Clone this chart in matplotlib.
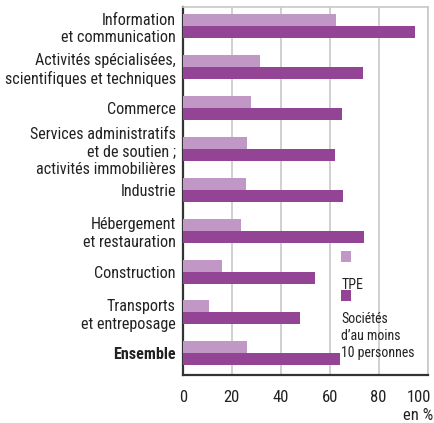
import matplotlib
matplotlib.use('Agg')
import matplotlib.pyplot as plt
import matplotlib.patches as mpatches
from matplotlib import font_manager
from matplotlib.transforms import ScaledTranslation
import numpy as np

# Police condensée si disponible
choix = None
for f in font_manager.fontManager.ttflist:
    nom = f.name.lower()
    st = str(f.stretch).lower()
    if 'narrow' in nom or 'condensed' in nom or 'condensed' in st or 'narrow' in st:
        if 'bold' in f.fname.lower() or 'italic' in f.fname.lower() or 'light' in f.fname.lower():
            continue
        choix = f
        if 'Liberation' in f.name or 'Roboto' in f.name:
            break
if choix is not None:
    plt.rcParams['font.family'] = [choix.name, 'DejaVu Sans']
    plt.rcParams['font.stretch'] = choix.stretch
else:
    plt.rcParams['font.family'] = ['Liberation Sans', 'DejaVu Sans']

# Données (en %)
categories = ['Information\net communication',
              'Activités spécialisées,\nscientifiques et techniques',
              'Commerce',
              'Services administratifs\net de soutien ;\nactivités immobilières',
              'Industrie',
              'Hébergement\net restauration',
              'Construction',
              'Transports\net entreposage',
              'Ensemble']
tpe = [62.4, 31.4, 27.8, 26.1, 25.7, 23.7, 15.9, 10.6, 26.1]
societes = [94.8, 73.5, 64.9, 62.0, 65.3, 73.9, 54.0, 47.8, 64.1]

c_tpe = '#C197C6'
c_soc = '#934494'

fig = plt.figure(figsize=(4.35, 4.23), dpi=100)
ax = fig.add_axes([0.42, 0.1135, 0.563, 0.870])

y = np.arange(len(categories))
h = 0.293
ax.barh(y - h/2, tpe, height=h, color=c_tpe, zorder=3)
ax.barh(y + h/2, societes, height=h, color=c_soc, zorder=3)

ax.set_ylim(len(categories) - 0.5 + 0.03, -0.5 + 0.03)
ax.set_xlim(0, 100)
ax.set_xticks([0, 20, 40, 60, 80, 100])
ax.set_yticks(y)
ax.set_yticklabels(categories, linespacing=1.22)
ax.get_yticklabels()[-1].set_fontweight('bold')
ax.tick_params(axis='y', length=0, pad=5, labelsize=11.6, colors='#222222')
ax.tick_params(axis='x', length=0, pad=11, labelsize=12, colors='#222222')
# le dernier libellé (100) est décalé vers la gauche
lab100 = ax.get_xticklabels()[-1]
lab100.set_transform(lab100.get_transform() + ScaledTranslation(-6 / 72, 0, fig.dpi_scale_trans))

ax.grid(axis='x', color='#C8C8C8', linewidth=1.2, zorder=0)
ax.spines['left'].set_color('#333333')
ax.spines['left'].set_linewidth(1.6)
ax.spines['bottom'].set_color('#333333')
ax.spines['bottom'].set_linewidth(1.6)
ax.spines['top'].set_color('#C8C8C8')
ax.spines['top'].set_linewidth(1.2)
ax.spines['right'].set_color('#C8C8C8')
ax.spines['right'].set_linewidth(1.2)

# Légende dessinée à la main (carré au-dessus du texte)
ax.add_patch(mpatches.Rectangle((0.642, 0.028), 0.29, 0.32, transform=ax.transAxes,
                                facecolor='white', edgecolor='none', zorder=1))
ax.add_patch(mpatches.Rectangle((0.647, 0.306), 0.041, 0.031, transform=ax.transAxes,
                                facecolor=c_tpe, edgecolor='none', zorder=5))
ax.text(0.647, 0.233, 'TPE', transform=ax.transAxes, fontsize=10, color='#222222',
        ha='left', va='baseline', zorder=6)
ax.add_patch(mpatches.Rectangle((0.647, 0.201), 0.041, 0.031, transform=ax.transAxes,
                                facecolor=c_soc, edgecolor='none', zorder=5))
ax.text(0.647, 0.048, 'Sociétés\nd\u2019au moins\n10 personnes', transform=ax.transAxes,
        fontsize=10, color='#222222', ha='left', va='baseline', linespacing=1.3, zorder=6)

fig.text(0.995, 0.006, 'en %', ha='right', va='baseline', fontsize=12, color='#222222')

fig.savefig('out.png', dpi=100)
